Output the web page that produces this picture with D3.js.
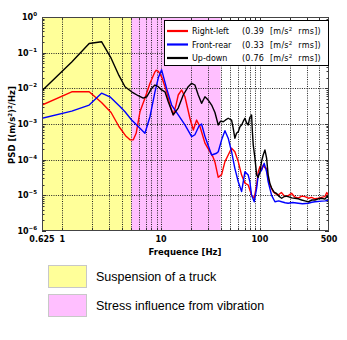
<!DOCTYPE html>
<html><head><meta charset="utf-8">
<script src="https://cdn.jsdelivr.net/npm/d3@7"></script>
<style>
body{margin:0;background:#fff}
svg{display:block}
text{font-family:"DejaVu Sans",sans-serif;fill:#000}
</style>
</head><body>
<svg id="c" width="347" height="340"></svg>
<script>
// ---------------- data ----------------
const categories = ["Right-left", "Front-rear", "Up-down"];
const rmsValues = ["0.39", "0.33", "0.76"];
const xTickValues = [0.625, 1, 10, 100, 500];
const xTickLabels = ["0.625", "1", "10", "100", "500"];
const yTickExponents = [0, -1, -2, -3, -4, -5, -6];
const bandNames = ["Suspension of a truck", "Stress influence from vibration"];
const bandRanges = [[0.625, 5], [5, 40]];

// [frequency Hz, PSD (m/s^2)^2/Hz]
const rightLeft = [
 [0.625,3.4e-3],[1.25,8.0e-3],[1.875,8.0e-3],[2.5,4.0e-3],[3.125,2.1e-3],[3.75,8.5e-4],
 [4.375,4.7e-4],[4.85,3.6e-4],[5.24,3.6e-4],[5.6,5.5e-4],[6.12,2.2e-3],[6.87,5.3e-3],
 [7.73,1.38e-2],[8.68,2.9e-2],[8.95,3.2e-2],[9.4,3.0e-2],[10.14,2.1e-2],[11.39,8.0e-3],
 [12.3,3.5e-3],[13.29,1.8e-3],[14.2,3.5e-3],[14.93,6.5e-3],[16.16,9.0e-3],[17.45,5.8e-3],
 [19.59,1.45e-3],[21.2,6.8e-4],[22.9,1.29e-3],[24.8,8.4e-4],[27.8,2.9e-4],[31.2,1.67e-4],
 [33.5,1.2e-4],[35.1,8.5e-5],[37.9,3.2e-5],[41.0,3.8e-5],[44.3,8.8e-5],[47.8,1.35e-4],
 [51.7,2.1e-4],[55.8,1.67e-4],[60.4,8.8e-5],[65.3,3.7e-5],[70.6,2.2e-5],[76.2,1.95e-5],
 [82.4,1.0e-5],[87.6,8.3e-6],[92.7,1.95e-5],[96.2,4.5e-5],[100,6.4e-5],[104,5.2e-5],
 [108,7.1e-5],[112,6.0e-5],[116.9,5.7e-5],[121,3.0e-5],[126.2,1.95e-5],[136.4,1.27e-5],
 [145,1.1e-5],[153,1.02e-5],[165,1.2e-5],[179,9.2e-6],[195,1.0e-5],[209,1.14e-5],
 [225,9.0e-6],[244,8.3e-6],[265,9.5e-6],[285,9.2e-6],[310,8.3e-6],[333,8.8e-6],
 [360,8.0e-6],[389,8.3e-6],[420,8.8e-6],[454,9.2e-6],[475,1.2e-5],[491,1.02e-5],[500,1.1e-5]
];
const frontRear = [
 [0.625,1.45e-3],[1.25,2.3e-3],[1.875,3.4e-3],[2.5,7.3e-3],[3.04,5.8e-3],[3.84,3.1e-3],
 [4.32,2.2e-3],[5.04,1.3e-3],[5.45,1.05e-3],[6.87,5.5e-4],[7.73,1.6e-3],[8.68,8.0e-3],
 [9.4,2.0e-2],[10.14,3.3e-2],[11.39,1.0e-2],[12.8,3.4e-3],[14.93,1.8e-3],[17.45,9.4e-4],
 [20.4,4.4e-4],[22.0,5.0e-4],[24.2,8.8e-4],[25.7,1.0e-3],[27.8,4.5e-4],[30.0,2.5e-4],
 [32.5,1.35e-4],[36.5,1.51e-4],[37.9,1.67e-4],[41.0,3.6e-4],[44.3,6.5e-4],[47.8,4.0e-4],
 [51.7,1.67e-4],[55.8,5.7e-5],[60.4,2.4e-5],[65.3,1.27e-5],[70.6,4.6e-5],[76.2,3.7e-5],
 [79.2,2.4e-5],[82.4,1.0e-5],[87.6,6.6e-6],[92.7,1.6e-5],[96.2,3.7e-5],[104,5.1e-5],
 [110.6,7.9e-5],[116.9,4.6e-5],[121.3,2.4e-5],[131.4,1.0e-5],[141.9,6.6e-6],[155,7.0e-6],
 [166,6.6e-6],[180,6.2e-6],[193,6.0e-6],[215,6.3e-6],[244,6.0e-6],[270,5.8e-6],
 [308,6.0e-6],[335,6.4e-6],[360,6.6e-6],[421,6.9e-6],[460,7.0e-6],[491,7.4e-6],[500,7.8e-6]
];
const upDown = [
 [0.625,8.6e-3],[1.25,5.5e-2],[1.875,1.8e-1],[2.5,2.03e-1],[3.125,7.0e-2],[3.75,2.3e-2],
 [4.32,1.11e-2],[5.04,8.0e-3],[5.88,6.2e-3],[6.61,5.3e-3],[7.16,5.8e-3],[8.04,1.0e-2],
 [8.68,1.24e-2],[9.37,1.11e-2],[10.14,9.0e-3],[10.96,8.0e-3],[11.83,4.2e-3],[13.29,1.8e-3],
 [14.93,2.8e-3],[16.77,6.5e-3],[18.84,1.11e-2],[20.4,1.38e-2],[22.0,1.24e-2],[23.8,6.5e-3],
 [25.7,3.8e-3],[27.8,5.8e-3],[30.0,4.7e-3],[32.5,3.4e-3],[35.1,2.1e-3],[37.9,9.4e-4],
 [40.0,1.2e-3],[42.6,1.16e-3],[45.0,1.3e-3],[47.8,1.45e-3],[51.7,1.29e-3],[53.5,8.0e-4],
 [55.8,4.0e-4],[58,5.5e-4],[60.4,6.1e-4],[63,8.5e-4],[65.3,9.4e-4],[68,1.2e-3],
 [70.6,1.45e-3],[73,1.1e-3],[76.2,9.4e-4],[79,1.5e-3],[82.4,1.79e-3],[84,6.0e-4],
 [85.6,2.6e-4],[89.1,1.1e-4],[92.7,3.7e-5],[96,3.2e-5],[100,4.4e-5],[104,9.0e-5],
 [108,1.35e-4],[112.4,1.87e-4],[116.9,1.1e-4],[121.3,3.7e-5],[126,2.2e-5],[131.4,1.6e-5],
 [140,1.2e-5],[147.5,1.14e-5],[155,9.5e-6],[166,8.3e-6],[180,9.6e-6],[193,9.2e-6],
 [210,8.5e-6],[226,8.3e-6],[245,8.0e-6],[264,7.4e-6],[285,7.0e-6],[308,6.6e-6],
 [335,7.4e-6],[360,7.4e-6],[390,8.0e-6],[421,8.3e-6],[455,7.8e-6],[480,9.5e-6],[500,8.3e-6]
];
const seriesData = [rightLeft, frontRear, upDown];

// ---------------- style / layout ----------------
const colors = ["#ff0000", "#0000ff", "#000000"];
const bandColors = ["#ffff99", "#ffbfff"];
const L = 42, R = 329, T = 17, B = 231;

const svg = d3.select("#c");
svg.append("rect").attr("width",347).attr("height",340).attr("fill","#fff");

const x = d3.scaleLog().domain([0.625, 500]).range([L, R]);
const y = d3.scaleLog().domain([1e-6, 1]).range([B, T]);

svg.append("clipPath").attr("id","clip").append("rect")
  .attr("x",L).attr("y",T).attr("width",R-L).attr("height",B-T);

// bands
svg.selectAll("rect.band").data(bandRanges).join("rect").attr("class","band")
  .attr("x", d => x(d[0])).attr("y", T)
  .attr("width", d => x(d[1]) - x(d[0])).attr("height", B - T)
  .attr("fill", (d,i) => bandColors[i]);

// grid
const gridF = [];
[1,10,100].forEach(dec => { for (let m=1;m<=9;m++){ const f=m*dec; if (f<500) gridF.push(f);} });
const gridG = svg.append("g").attr("stroke","#222").attr("stroke-width",1).attr("stroke-dasharray","1,1.3");
gridG.selectAll("line.v").data(gridF).join("line").attr("class","v")
  .attr("x1", d => Math.round(x(d))+0.5).attr("x2", d => Math.round(x(d))+0.5)
  .attr("y1", T).attr("y2", B);
const decades = yTickExponents.filter(e => e < 0 && e > -6).map(e => Math.pow(10,e));
gridG.selectAll("line.h").data(decades).join("line").attr("class","h")
  .attr("y1", d => Math.round(y(d))+0.5).attr("y2", d => Math.round(y(d))+0.5)
  .attr("x1", L).attr("x2", R);

// minor ticks
const tickG = svg.append("g").attr("stroke","#333").attr("stroke-width",1);
gridF.forEach(f => {
  const xx = Math.round(x(f))+0.5;
  tickG.append("line").attr("x1",xx).attr("x2",xx).attr("y1",B).attr("y2",B-3);
  tickG.append("line").attr("x1",xx).attr("x2",xx).attr("y1",T).attr("y2",T+3);
});
for (let e=-6;e<0;e++) for (let m=1;m<=9;m++){
  const yy = Math.round(y(m*Math.pow(10,e)))+0.5;
  const len = m===1?4:2.5;
  tickG.append("line").attr("x1",L).attr("x2",L+len).attr("y1",yy).attr("y2",yy);
  tickG.append("line").attr("x1",R).attr("x2",R-len).attr("y1",yy).attr("y2",yy);
}

// curves
const line = d3.line().x(d => x(d[0])).y(d => y(d[1]));
const curveG = svg.append("g").attr("clip-path","url(#clip)");
seriesData.forEach((s,i) => {
  curveG.append("path").datum(s).attr("d", line)
    .attr("fill","none").attr("stroke", colors[i]).attr("stroke-width",1.4)
    .attr("stroke-linejoin","round");
});

// frame
svg.append("rect").attr("x",L+0.5).attr("y",T+0.5).attr("width",R-L-1).attr("height",B-T-1)
  .attr("fill","none").attr("stroke","#444").attr("stroke-width",1);

// y tick labels
yTickExponents.forEach(e => {
  const t = svg.append("text").attr("x",37).attr("y", y(Math.pow(10,e))+3)
    .attr("text-anchor","end").attr("font-size",8).attr("font-weight","bold");
  t.append("tspan").text("10");
  t.append("tspan").attr("dy",-4).attr("font-size",5.5).text(e === 0 ? "0" : "\u2212" + (-e));
});

// x tick labels
svg.selectAll("text.xt").data(xTickValues).join("text").attr("class","xt")
  .attr("x", d => x(d)).attr("y", 241.5).attr("text-anchor","middle")
  .attr("font-size",8).attr("font-weight","bold")
  .text((d,i) => xTickLabels[i]);

// axis titles
svg.append("text").attr("x",185).attr("y",254.5).attr("text-anchor","middle")
  .attr("font-size",8.5).attr("font-weight","bold").text("Frequence [Hz]");
const yt = svg.append("text").attr("transform","translate(14.5,125) rotate(-90)")
  .attr("text-anchor","middle").attr("font-size",8.5).attr("font-weight","bold");
yt.append("tspan").text("PSD [(m/s");
yt.append("tspan").attr("dy",-3).attr("font-size",5.5).text("2");
yt.append("tspan").attr("dy",3).text(")");
yt.append("tspan").attr("dy",-3).attr("font-size",5.5).text("2");
yt.append("tspan").attr("dy",3).text("/Hz]");

// legend
svg.append("rect").attr("x",164.5).attr("y",20.5).attr("width",164).attr("height",45)
  .attr("fill","#fff").attr("stroke","#000").attr("stroke-width",1);
const rowY = [31, 44.5, 58];
categories.forEach((c,i) => {
  svg.append("line").attr("x1",167).attr("x2",188).attr("y1",rowY[i]).attr("y2",rowY[i])
    .attr("stroke",colors[i]).attr("stroke-width",2.2);
  svg.append("text").attr("x",192).attr("y",rowY[i]+3).attr("font-size",8).text(c);
  const t = svg.append("text").attr("x",242).attr("y",rowY[i]+3).attr("font-size",8)
    .attr("letter-spacing",0.25).attr("word-spacing",3);
  t.append("tspan").text("(" + rmsValues[i] + " [m/s");
  t.append("tspan").attr("dy",-3).attr("font-size",5.5).text("2");
  t.append("tspan").attr("dy",3).text(" rms])");
});

// band legend
const bandY = [265, 294];
bandNames.forEach((n,i) => {
  svg.append("rect").attr("x",48.5).attr("y",bandY[i]+0.5).attr("width",38).attr("height",22)
    .attr("fill",bandColors[i]).attr("stroke","#c8c8c8").attr("stroke-width",1);
  svg.append("text").attr("x",96).attr("y",bandY[i]+16).attr("font-size",12.5)
    .style("font-family","'Liberation Sans',Arial,sans-serif").text(n);
});
</script>
</body></html>
